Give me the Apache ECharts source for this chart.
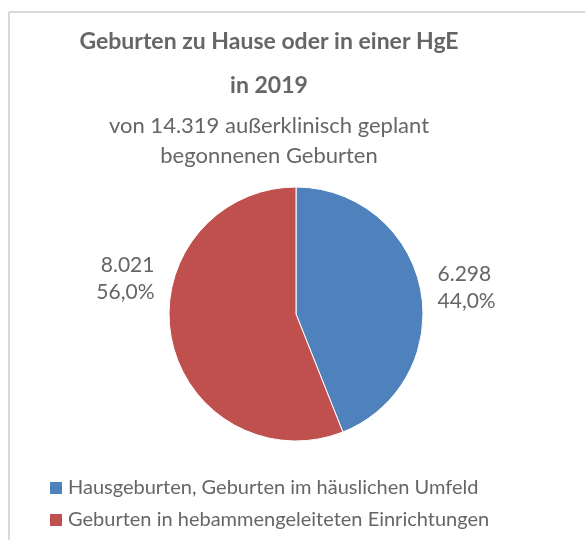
<!DOCTYPE html>
<html>
<head>
<meta charset="utf-8">
<script src="https://cdn.jsdelivr.net/npm/echarts@6/dist/echarts.min.js"></script>
<style>
  html, body { margin: 0; padding: 0; background: #fff; }
  #main { width: 585px; height: 540px; }
</style>
</head>
<body>
<div id="main"></div>
<script>
// Daten
var categories = ['Hausgeburten, Geburten im häuslichen Umfeld', 'Geburten in hebammengeleiteten Einrichtungen'];
var values = [6298, 8021];
var percentLabels = ['44,0%', '56,0%'];
var countLabels = ['6.298', '8.021'];
var colors = ['#4F81BD', '#C0504D'];

var textColor = '#666666';
var font = 'Lato';

var myChart = echarts.init(document.getElementById('main'));

var pieData = [];
for (var i = 0; i < categories.length; i++) {
    pieData.push({
        name: categories[i],
        value: values[i],
        itemStyle: { color: colors[i] },
        label: { formatter: countLabels[i] + '\n' + percentLabels[i] }
    });
}

var option = {
    animation: false,
    title: {
        text: 'Geburten zu Hause oder in einer HgE\nin 2019',
        subtext: 'von 14.319 außerklinisch geplant\nbegonnenen Geburten',
        left: 264,
        textAlign: 'center',
        top: 15,
        itemGap: 3,
        textStyle: { fontFamily: font, fontSize: 23, fontWeight: 'bold', color: textColor, lineHeight: 44 },
        subtextStyle: { fontFamily: font, fontSize: 22, color: textColor, lineHeight: 30 }
    },
    legend: {
        orient: 'vertical',
        left: 43,
        top: 473,
        icon: 'rect',
        itemWidth: 14,
        itemHeight: 14,
        itemGap: 12,
        textStyle: { fontFamily: font, fontSize: 20, color: textColor, lineHeight: 20 },
        data: categories
    },
    graphic: [
        { type: 'line', shape: { x1: 9, y1: 12, x2: 585, y2: 12 }, style: { stroke: '#d9d9d9', lineWidth: 2 } },
        { type: 'line', shape: { x1: 9, y1: 12, x2: 9, y2: 540 }, style: { stroke: '#d9d9d9', lineWidth: 2 } }
    ],
    series: [
        {
            type: 'pie',
            center: [296, 314],
            radius: 127,
            startAngle: 90,
            clockwise: true,
            avoidLabelOverlap: false,
            itemStyle: { borderColor: '#ffffff', borderWidth: 1 },
            label: {
                show: true,
                position: 'outside',
                fontFamily: font,
                fontSize: 21,
                lineHeight: 27,
                color: textColor
            },
            labelLine: { show: false, length: 12, length2: 0 },
            // Excel setzt das linke Label oberhalb der Mitte
            labelLayout: function (params) {
                if (params.dataIndex === 1) {
                    return { dy: -61 };
                }
            },
            emphasis: { scale: false },
            data: pieData
        }
    ]
};

myChart.setOption(option);
</script>
</body>
</html>
